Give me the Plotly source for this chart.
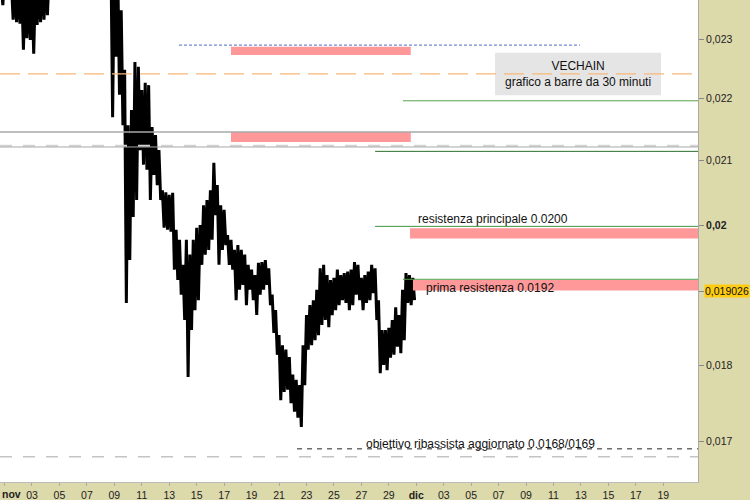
import numpy as np
import pandas as pd
import plotly.graph_objects as go

# ---------------- data ----------------
bar_start = "2019-10-31 18:00"   # 6-hour bars (high / low)
bar_high = [
    0.02405, 0.02410, 0.02412, 0.02400, 0.02398, 0.02395, 0.02390, 0.02388, 0.02392, 0.02386, 0.02395, 0.02402, 0.02408, 0.02415, 0.02420,
    0.02430, 0.02445, 0.02452, 0.02460, 0.02475, 0.02468, 0.02480, 0.02492, 0.02485, 0.02478, 0.02490, 0.02500, 0.02488, 0.02476, 0.02470, 0.02465,
    0.02460, 0.02450, 0.02440, 0.02420, 0.02351, 0.02248, 0.02156, 0.02181, 0.02261, 0.02253,
    0.02214, 0.02226, 0.02222, 0.02153, 0.02140, 0.02116, 0.02053, 0.02050, 0.02046, 0.02049,
    0.01993, 0.01978, 0.01941, 0.01978, 0.01956, 0.01978, 0.01996, 0.02000, 0.02030, 0.02038,
    0.02053, 0.02096, 0.02061, 0.02030, 0.02023, 0.01985, 0.01978, 0.01963, 0.01970, 0.01963,
    0.01956, 0.01941, 0.01934, 0.01926, 0.01944, 0.01945, 0.01948, 0.01936, 0.01898, 0.01876,
    0.01841, 0.01827, 0.01821, 0.01811, 0.01787, 0.01780, 0.01773, 0.01827, 0.01869, 0.01883,
    0.01890, 0.01905, 0.01936, 0.01941, 0.01926, 0.01919, 0.01922, 0.01934, 0.01926, 0.01929,
    0.01931, 0.01934, 0.01945, 0.01941, 0.01922, 0.01926, 0.01931, 0.01941, 0.01936, 0.01890,
    0.01848, 0.01848, 0.01851, 0.01862, 0.01880, 0.01869, 0.01905, 0.01929, 0.01926, 0.01922,
]
bar_low = [
    0.02360, 0.02380, 0.02375, 0.02334, 0.02330, 0.02327, 0.02282, 0.02302, 0.02299, 0.02275, 0.02325, 0.02330, 0.02334, 0.02342, 0.02380,
    0.02392, 0.02400, 0.02410, 0.02418, 0.02425, 0.02420, 0.02435, 0.02440, 0.02432, 0.02428, 0.02440, 0.02445, 0.02436, 0.02425, 0.02415, 0.02405,
    0.02390, 0.02169, 0.02270, 0.02206, 0.02156, 0.01886, 0.01948, 0.02012, 0.02038, 0.02116,
    0.02093, 0.02085, 0.02038, 0.02077, 0.02061, 0.02038, 0.01996, 0.01993, 0.01990, 0.01934,
    0.01919, 0.01898, 0.01862, 0.01784, 0.01848, 0.01876, 0.01890, 0.01941, 0.01956, 0.01963,
    0.01978, 0.02015, 0.01941, 0.01963, 0.01970, 0.01941, 0.01934, 0.01890, 0.01905, 0.01912,
    0.01883, 0.01905, 0.01890, 0.01869, 0.01898, 0.01905, 0.01912, 0.01883, 0.01844, 0.01814,
    0.01753, 0.01764, 0.01767, 0.01749, 0.01738, 0.01730, 0.01718, 0.01773, 0.01821, 0.01827,
    0.01834, 0.01841, 0.01855, 0.01862, 0.01852, 0.01869, 0.01876, 0.01883, 0.01890, 0.01886,
    0.01876, 0.01883, 0.01898, 0.01890, 0.01876, 0.01886, 0.01890, 0.01900, 0.01862, 0.01789,
    0.01800, 0.01793, 0.01810, 0.01814, 0.01825, 0.01816, 0.01834, 0.01886, 0.01883, 0.01890,
]

x_start = "2019-10-31 16:03"
x_end = "2019-12-21 12:40"

# horizontal levels
line_price = [0.02290, 0.02241, 0.02196, 0.02145, 0.02123, 0.02121, 0.02114, 0.01998, 0.01920, 0.01690, 0.01680]
line_from = ["2019-11-13 17:00", x_start, "2019-11-30 00:45", x_start, x_start, x_start,
             "2019-11-28 00:00", "2019-11-28 00:00", "2019-11-30 00:45", "2019-11-22 07:30", x_start]
line_to = ["2019-12-12 22:20", x_end, x_end, x_end, x_end, x_end, x_end, x_end, x_end, x_end, x_end]
line_color = ["#7486d4", "#f8b878", "#5aa050", "#a8a8a8", "#d4d4d4", "#a8a8a8",
              "#2f6f2f", "#3f9440", "#4fa048", "#222222", "#c4c4c4"]
line_dash = ["3px,2px", "20px,8px", "solid", "solid", "12px,11px", "solid",
             "solid", "solid", "solid", "5px,5px", "12px,11px"]
line_width = [1.1, 1.3, 1, 1.3, 2, 1, 1, 1, 1, 1, 1.3]

# zones (pink)
zone_from = ["2019-11-17 12:00", "2019-11-17 12:00", "2019-11-30 13:00", "2019-11-30 18:15"]
zone_to = ["2019-11-30 14:24", "2019-11-30 14:24", x_end, x_end]
zone_low = [0.02273, 0.02129, 0.01980, 0.01904]
zone_high = [0.02287, 0.02145, 0.01995, 0.01919]

# notes
note_text = ["resistenza principale 0.0200", "prima resistenza 0.0192",
             "obiettivo ribassista aggiornato 0.0168/0169"]
note_x = ["2019-11-30 23:30", "2019-12-01 13:26", "2019-11-27 04:30"]
note_y = [0.02009, 0.019075, 0.016958]

title_box_x = ["2019-12-06 17:45", "2019-12-18 20:00"]
title_box_y = [0.02205, 0.02277]
title_text = "VECHAIN<br>grafico a barre da 30 minuti"
title_x = "2019-12-12 18:43"
title_y = 0.02241

last_price = 0.019026
y_ticks = [0.017, 0.018, 0.019026, 0.02, 0.021, 0.022, 0.023]
y_ticktext = ["0,017", "0,018", "", "<b>0,02</b>", "0,021", "0,022", "0,023"]

x_tickdays = ["2019-11-01", "2019-11-03", "2019-11-05", "2019-11-07", "2019-11-09", "2019-11-11",
              "2019-11-13", "2019-11-15", "2019-11-17", "2019-11-19", "2019-11-21", "2019-11-23",
              "2019-11-25", "2019-11-27", "2019-11-29", "2019-12-01", "2019-12-03", "2019-12-05",
              "2019-12-07", "2019-12-09", "2019-12-11", "2019-12-13", "2019-12-15", "2019-12-17",
              "2019-12-19"]
x_ticktext = ["<b>nov</b>", "03", "05", "07", "09", "11", "13", "15", "17", "19", "21", "23", "25",
              "27", "29", "<b>dic</b>", "03", "05", "07", "09", "11", "13", "15", "17", "19"]
first_month = "<b>nov</b>"

# ---------------- figure ----------------
FONT = "Liberation Sans, Arial, sans-serif"
fig = go.Figure()

times = pd.date_range(bar_start, periods=len(bar_high), freq="6h")
zx, zy = [], []
for t, h, l in zip(times, bar_high, bar_low):
    zx += [t, t + pd.Timedelta(hours=3)]
    zy += [h, l]
fig.add_trace(go.Scatter(x=zx, y=zy, mode="lines", line=dict(color="black", width=3),
                         hoverinfo="skip"))

for f, t, lo, hi in zip(zone_from, zone_to, zone_low, zone_high):
    fig.add_trace(go.Scatter(x=[f, t, t, f, f], y=[lo, lo, hi, hi, lo], mode="lines",
                             fill="toself", fillcolor="#ff9898", line=dict(width=0),
                             hoverinfo="skip"))

fig.add_trace(go.Scatter(x=[title_box_x[0], title_box_x[1], title_box_x[1], title_box_x[0], title_box_x[0]],
                         y=[title_box_y[0], title_box_y[0], title_box_y[1], title_box_y[1], title_box_y[0]],
                         mode="lines", fill="toself", fillcolor="rgba(225,225,225,0.85)",
                         line=dict(width=0), hoverinfo="skip"))

for p, f, t, c, d, w in zip(line_price, line_from, line_to, line_color, line_dash, line_width):
    fig.add_trace(go.Scatter(x=[f, t], y=[p, p], mode="lines",
                             line=dict(color=c, dash=d, width=w), hoverinfo="skip"))

annotations = []
for txt, x, y in zip(note_text, note_x, note_y):
    annotations.append(dict(x=x, y=np.log10(y), xref="x", yref="y", text=txt, showarrow=False,
                            xanchor="left", yanchor="middle",
                            font=dict(family=FONT, size=12, color="#111")))
annotations.append(dict(x=title_x, y=np.log10(title_y), xref="x", yref="y", text=title_text,
                        showarrow=False, xanchor="center", yanchor="middle", align="center",
                        font=dict(family=FONT, size=12, color="#111")))
annotations.append(dict(x=1, xref="paper", y=np.log10(last_price), yref="y",
                        text="0,019026", showarrow=False, xanchor="left", yanchor="middle",
                        xshift=6, bgcolor="#ffcc10", borderpad=0,
                        font=dict(family=FONT, size=10.5, color="#111")))
# first month label at the left edge
annotations.append(dict(x=0, xref="paper", y=0, yref="paper", yanchor="top", yshift=-4,
                        xanchor="left", text=first_month, showarrow=False,
                        font=dict(family=FONT, size=10.5, color="#222")))

fig.update_layout(
    width=750, height=500,
    margin=dict(l=0, r=52, t=0, b=18, pad=0),
    paper_bgcolor="#dcd9ab", plot_bgcolor="white",
    showlegend=False, hovermode=False,
    annotations=annotations,
    xaxis=dict(type="date", range=[x_start, x_end], tickvals=x_tickdays, ticktext=x_ticktext,
               tickfont=dict(family=FONT, size=10.5, color="#222"), ticks="outside", ticklen=3,
               tickcolor="#aaa", showgrid=False, zeroline=False, showline=True, linecolor="#bbb",
               fixedrange=True),
    yaxis=dict(type="log", side="right", range=[-1.782945, -1.625429], tickvals=y_ticks,
               ticktext=y_ticktext, tickfont=dict(family=FONT, size=10.5, color="#222"),
               ticks="outside", ticklen=5, tickcolor="#888", showgrid=False, zeroline=False,
               showline=True, linecolor="#aaa", fixedrange=True),
)

fig.write_html("out.html", config={"displayModeBar": False},
               post_script="document.body.style.margin='0';document.body.style.padding='0';")
